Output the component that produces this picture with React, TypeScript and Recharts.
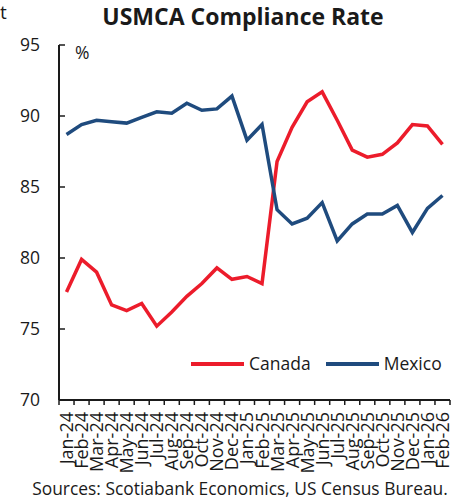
import React from 'react';
import { LineChart, Line, XAxis, YAxis, Legend } from 'recharts';

const months = [
  'Jan-24', 'Feb-24', 'Mar-24', 'Apr-24', 'May-24', 'Jun-24', 'Jul-24', 'Aug-24',
  'Sep-24', 'Oct-24', 'Nov-24', 'Dec-24', 'Jan-25', 'Feb-25', 'Mar-25', 'Apr-25',
  'May-25', 'Jun-25', 'Jul-25', 'Aug-25', 'Sep-25', 'Oct-25', 'Nov-25', 'Dec-25',
  'Jan-26', 'Feb-26',
];
const canada = [
  77.6, 79.9, 79.0, 76.7, 76.3, 76.8, 75.2, 76.2, 77.3, 78.2, 79.3, 78.5,
  78.7, 78.2, 86.8, 89.2, 91.0, 91.7, 89.7, 87.6, 87.1, 87.3, 88.1, 89.4,
  89.3, 88.0,
];
const mexico = [
  88.7, 89.4, 89.7, 89.6, 89.5, 89.9, 90.3, 90.2, 90.9, 90.4, 90.5, 91.4,
  88.3, 89.4, 83.4, 82.4, 82.8, 83.9, 81.2, 82.4, 83.1, 83.1, 83.7, 81.8,
  83.5, 84.4,
];
const yTicks = [70, 75, 80, 85, 90, 95];

const data = months.map((m, i) => ({ month: m, Canada: canada[i], Mexico: mexico[i] }));

const W = 458;
const H = 504;
const PLOT_L = 59;
const PLOT_R = 450;
const PLOT_T = 45;
const PLOT_B = 400;
const HALF = (PLOT_R - PLOT_L) / months.length / 2;
const FONT = '"Open Sans", "Noto Sans", sans-serif';
const INK = '#1a1a1a';
const RED = '#EC1C2B';
const BLUE = '#1F4B7E';

const XTick = (props: any) => {
  const { x, payload, index } = props;
  const last = index === months.length - 1;
  return (
    <g>
      <line x1={x - HALF} x2={x - HALF} y1={PLOT_B} y2={PLOT_B + 5} stroke={INK} strokeWidth={1.5} />
      {last && (
        <line x1={x + HALF} x2={x + HALF} y1={PLOT_B} y2={PLOT_B + 5} stroke={INK} strokeWidth={1.5} />
      )}
      <text
        transform={`translate(${x},${PLOT_B + 12}) rotate(-90)`}
        textAnchor="end"
        dy="0.36em"
        fontSize={18}
        fill={INK}
        fontFamily={FONT}
      >
        {payload.value}
      </text>
    </g>
  );
};

const YTick = (props: any) => {
  const { y, payload } = props;
  return (
    <g>
      <line x1={PLOT_L} x2={PLOT_L + 6} y1={y} y2={y} stroke={INK} strokeWidth={1.5} />
      <text x={40} y={y} dy="0.35em" textAnchor="end" fontSize={17.5} fill={INK} fontFamily={FONT}>
        {payload.value}
      </text>
    </g>
  );
};

const LegendContent = (props: any) => {
  const { payload } = props;
  return (
    <div style={{ display: 'flex', alignItems: 'center', fontFamily: FONT, fontSize: 17.5, color: INK, lineHeight: '23px' }}>
      {(payload || []).map((p: any, i: number) => (
        <div key={p.value} style={{ display: 'flex', alignItems: 'center', marginLeft: i ? 15 : 0 }}>
          <svg width={53} height={8} style={{ display: 'block' }}>
            <line x1={0} x2={53} y1={4} y2={4} stroke={p.color} strokeWidth={4} />
          </svg>
          <span style={{ marginLeft: 5 }}>{p.value}</span>
        </div>
      ))}
    </div>
  );
};

export default function App() {
  return (
    <div style={{ position: 'absolute', left: 0, top: 0, width: W, height: H, background: '#fff', fontFamily: FONT, color: INK }}>
      <div style={{ position: 'absolute', left: 0, top: 3, fontSize: 19, lineHeight: 1 }}>t</div>
      <div style={{ position: 'absolute', left: 0, width: 486, top: 5, textAlign: 'center', fontSize: 23, fontWeight: 700, lineHeight: 1 }}>
        USMCA Compliance Rate
      </div>
      <div style={{ position: 'absolute', left: 75, top: 44, fontSize: 17.5, lineHeight: 1 }}>%</div>
      <LineChart
        width={W}
        height={H}
        data={data}
        margin={{ top: PLOT_T, right: W - PLOT_R, left: 1, bottom: H - PLOT_B - 80 }}
      >
        <XAxis
          dataKey="month"
          interval={0}
          height={80}
          padding={{ left: HALF, right: HALF }}
          tickLine={false}
          axisLine={{ stroke: INK, strokeWidth: 2 }}
          tick={<XTick />}
        />
        <YAxis
          domain={[70, 95]}
          ticks={yTicks}
          width={PLOT_L - 1}
          tickLine={false}
          axisLine={{ stroke: INK, strokeWidth: 2 }}
          tick={<YTick />}
          interval={0}
        />
        <Legend
          layout="horizontal"
          verticalAlign="middle"
          align="center"
          content={<LegendContent />}
          wrapperStyle={{ position: 'absolute', left: 191, top: 352, width: 'auto', height: 'auto' }}
        />
        <Line type="linear" dataKey="Canada" stroke={RED} strokeWidth={3.5} dot={false} isAnimationActive={false} />
        <Line type="linear" dataKey="Mexico" stroke={BLUE} strokeWidth={3.5} dot={false} isAnimationActive={false} />
      </LineChart>
      <div style={{ position: 'absolute', left: 0, width: 480, top: 480, textAlign: 'center', fontSize: 17.4, lineHeight: 1 }}>
        Sources: Scotiabank Economics, US Census Bureau.
      </div>
    </div>
  );
}
